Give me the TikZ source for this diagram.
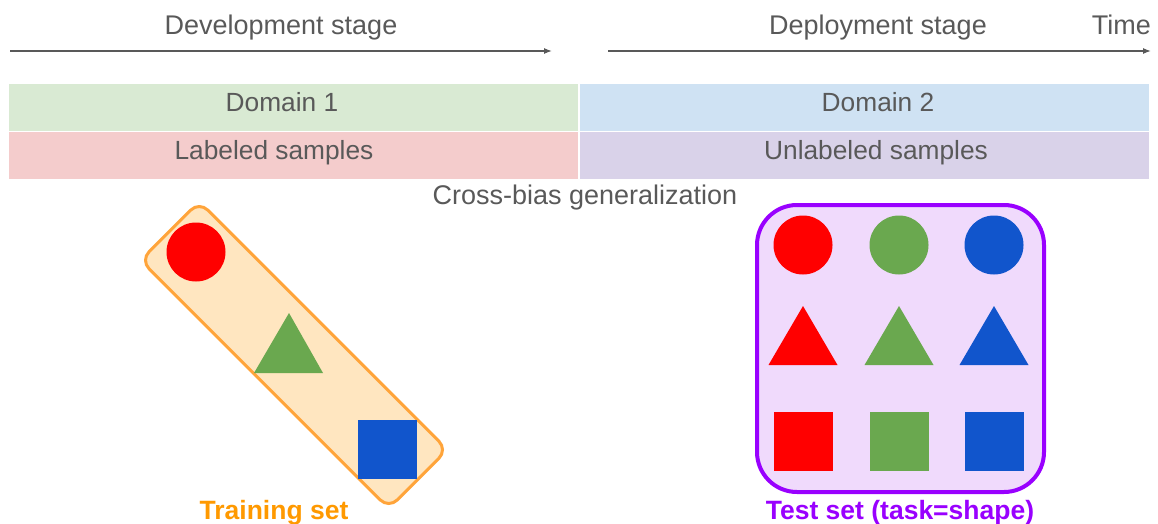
\documentclass[tikz,border=0pt]{standalone}
\usepackage{fontspec}
\setmainfont{Liberation Sans}
\usetikzlibrary{arrows.meta}
\definecolor{txtgray}{HTML}{595959}
\definecolor{dgreen}{HTML}{D9EAD3}
\definecolor{dblue}{HTML}{CFE2F3}
\definecolor{dred}{HTML}{F4CCCC}
\definecolor{dpurple}{HTML}{D9D2E9}
\definecolor{shred}{HTML}{FF0000}
\definecolor{shgreen}{HTML}{6AA84F}
\definecolor{shblue}{HTML}{1155CC}
\definecolor{orborder}{HTML}{FFA43A}
\definecolor{orfill}{HTML}{FFE6C0}
\definecolor{orlabel}{HTML}{FF9900}
\definecolor{pubrder}{HTML}{9900FF}
\definecolor{pufill}{HTML}{F0DAFC}
\tikzset{
  lbl/.style={font=\fontsize{27}{31}\selectfont, text=txtgray, anchor=base, inner sep=0pt},
  celltxt/.style={font=\fontsize{26.3}{30}\selectfont, text=txtgray, anchor=base, inner sep=0pt},
  cellbox/.style={draw=none, inner sep=0pt, minimum width=569pt},
  timearr/.style={draw=txtgray, line width=1.3pt, -{Latex[length=8pt,width=6pt]}},
  circ/.style={circle, minimum size=59pt, inner sep=0pt, draw=none},
  sq/.style={rectangle, minimum size=59pt, inner sep=0pt, draw=none},
  setlbl/.style={font=\bfseries\fontsize{26.5}{30}\selectfont, anchor=base, inner sep=0pt},
}
\begin{document}
\begin{tikzpicture}[x=1pt,y=-1pt]
\useasboundingbox (0,0) rectangle (1158,524);
% time axis
\node[lbl] (dev) at (281,35) {Development stage};
\node[lbl] (dep) at (878,35) {Deployment stage};
\node[lbl, anchor=base east] (time) at (1151,35) {Time};
\coordinate (a1s) at (10,51);
\coordinate (a1e) at (552,51);
\coordinate (a2s) at (608,51);
\coordinate (a2e) at (1151,51);
\draw[timearr] (a1s) -- (a1e);
\draw[timearr] (a2s) -- (a2e);
% table cells
\node[cellbox, fill=dgreen, minimum height=46.5pt] (c11) at (293.5,107.5) {};
\node[cellbox, fill=dblue, minimum height=46.5pt] (c12) at (864.5,107.5) {};
\node[cellbox, fill=dred, minimum height=47pt] (c21) at (293.5,155.5) {};
\node[cellbox, fill=dpurple, minimum height=47pt] (c22) at (864.5,155.5) {};
\node[celltxt] (t11) at (282,111) {Domain 1};
\node[celltxt] (t12) at (878,111) {Domain 2};
\node[celltxt] (t21) at (274,159) {Labeled samples};
\node[celltxt] (t22) at (876,159) {Unlabeled samples};
\node[lbl] (cross) at (585,204) {Cross-bias generalization};
% training set
\node[rotate=-45, minimum width=351pt, minimum height=83pt, rounded corners=12pt,
      draw=orborder, line width=3pt, fill=orfill] (train) at (294,355) {};
\node[circ, fill=shred] (trc) at (196,252) {};
\path[fill=shgreen] (289,313) -- (323,373) -- (254,373) -- cycle;
\node[sq, fill=shblue] (trs) at (387.5,449.5) {};
\node[setlbl, text=orlabel] (trainlbl) at (274,519) {Training set};
% test set
\draw[draw=pubrder, fill=pufill, line width=4pt, rounded corners=40pt] (757,205) rectangle (1044,492);
\node[circ, fill=shred] (c1) at (803,245) {};
\node[circ, fill=shgreen] (c2) at (899,245) {};
\node[circ, fill=shblue] (c3) at (994,245) {};
\path[fill=shred] (803,306) -- (837.5,365) -- (768.5,365) -- cycle;
\path[fill=shgreen] (899,306) -- (933.5,365) -- (864.5,365) -- cycle;
\path[fill=shblue] (994,306) -- (1028.5,365) -- (959.5,365) -- cycle;
\node[sq, fill=shred] (s1) at (803.5,441.5) {};
\node[sq, fill=shgreen] (s2) at (899.5,441.5) {};
\node[sq, fill=shblue] (s3) at (994.5,441.5) {};
\node[setlbl, text=pubrder] (testlbl) at (900,519) {Test set (task=shape)};
\end{tikzpicture}
\end{document}
